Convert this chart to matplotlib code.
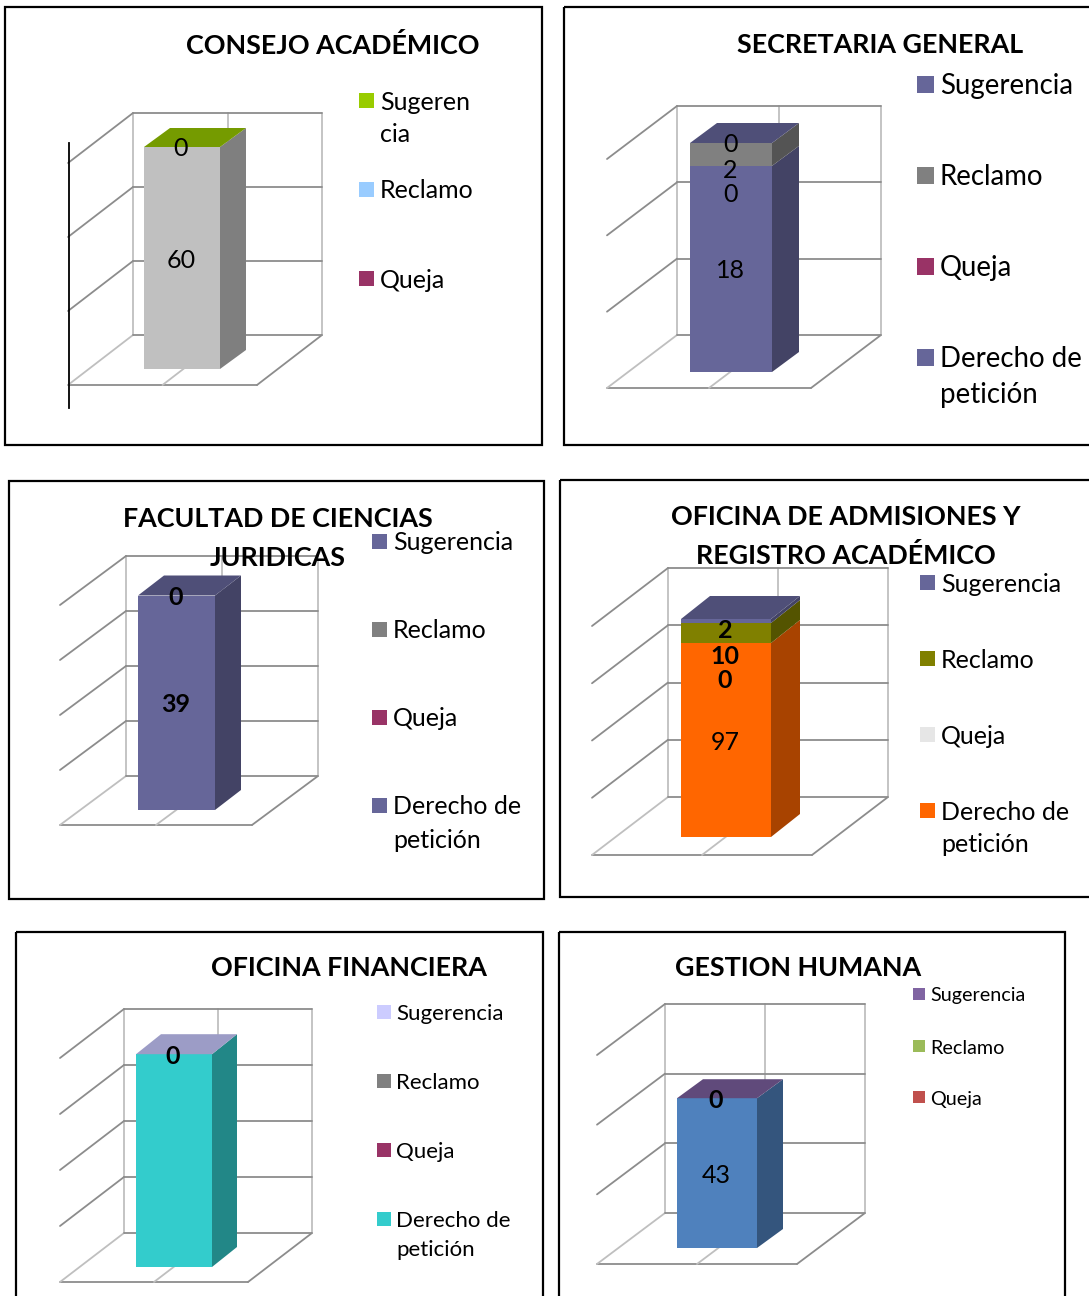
import matplotlib
matplotlib.use("Agg")
import matplotlib.pyplot as plt
from matplotlib.patches import Polygon, Rectangle

W_PX, H_PX = 1089, 1296
plt.rcParams["font.family"] = ["Lato", "DejaVu Sans"]

# Stacked series, bottom to top: Derecho de petición, Queja, Reclamo, Sugerencia
consejo_values = [60, 0]
secretaria_values = [18, 0, 2, 0]
facultad_values = [39, 0]
admisiones_values = [97, 0, 10, 2]
financiera_values = [38, 0]
gestion_values = [43, 0]

consejo_labels = ["60", "0"]
secretaria_labels = ["18", "0", "2", "0"]
facultad_labels = ["39", "0"]
admisiones_labels = ["97", "0", "10", "2"]
financiera_labels = [None, "0"]
gestion_labels = ["43", "0"]

legend_four = ["Sugerencia", "Reclamo", "Queja", "Derecho de\npetición"]
legend_three = ["Sugerencia", "Reclamo", "Queja"]
legend_consejo = ["Sugeren\ncia", "Reclamo", "Queja"]

panels = [
    dict(title="CONSEJO ACADÉMICO", title_xy=(333, 45), title_gap=39,
         frame=(5, 7, 542, 445),
         values=consejo_values, labels=consejo_labels, axis_max=60, intervals=3,
         colors=["#C0C0C0", "#99CC00"], top="#759B00",
         bold=[False, False],
         wall=(68, 385, 189, 222), depth=(65, -50),
         bar=(144, 220, 369), bar_depth=(26, -19),
         legend=legend_consejo, legend_colors=["#99CC00", "#99CCFF", "#993366"],
         legend_x=359, legend_y=[100, 189, 278], swatch=15, text_dx=21,
         legend_size=18, line_gap=33),
    dict(title="SECRETARIA GENERAL", title_xy=(880, 45), title_gap=39,
         frame=(564, 7, 1110, 445),
         values=secretaria_values, labels=secretaria_labels, axis_max=20, intervals=3,
         colors=["#666699", "#993366", "#808080", "#666699"], top="#4F4F78",
         bold=[False] * 4,
         wall=(607, 388, 204, 229), depth=(70, -53),
         bar=(690, 772, 372), bar_depth=(27, -20),
         legend=legend_four, legend_colors=["#666699", "#808080", "#993366", "#666699"],
         legend_x=917, legend_y=[84, 175, 266, 357], swatch=17, text_dx=23,
         legend_size=19.9, line_gap=36),
    dict(title="FACULTAD DE CIENCIAS\nJURIDICAS", title_xy=(278, 519), title_gap=39,
         frame=(9, 481, 544, 899),
         values=facultad_values, labels=facultad_labels, axis_max=40, intervals=4,
         colors=["#666699", "#666699"], top="#4F4F78",
         bold=[True, True],
         wall=(60, 825, 192, 220), depth=(66, -49),
         bar=(138, 215, 810), bar_depth=(26, -20),
         legend=legend_four, legend_colors=["#666699", "#808080", "#993366", "#666699"],
         legend_x=372, legend_y=[541, 629, 717, 805], swatch=15, text_dx=21,
         legend_size=18, line_gap=33),
    dict(title="OFICINA DE ADMISIONES Y\nREGISTRO ACADÉMICO", title_xy=(846, 517), title_gap=39,
         frame=(560, 480, 1110, 897),
         values=admisiones_values, labels=admisiones_labels, axis_max=114.5, intervals=4,
         colors=["#FF6600", "#E6E6E6", "#808000", "#666699"], top="#4F4F78",
         bold=[False, True, True, True],
         wall=(592, 855, 220, 229), depth=(76, -58),
         bar=(681, 771, 837), bar_depth=(29, -23),
         legend=legend_four, legend_colors=["#666699", "#808000", "#E6E6E6", "#FF6600"],
         legend_x=920, legend_y=[582, 658, 734, 810], swatch=15, text_dx=21,
         legend_size=18, line_gap=32),
    dict(title="OFICINA FINANCIERA", title_xy=(349, 968), title_gap=39,
         frame=(16, 932, 543, 1320),
         values=financiera_values, labels=financiera_labels, axis_max=40, intervals=4,
         colors=["#33CCCC", "#CCCCFF"], top="#9C9CC6",
         bold=[False, True],
         wall=(60, 1282, 188, 224), depth=(64, -49),
         bar=(136, 212, 1267), bar_depth=(25, -20),
         legend=legend_four, legend_colors=["#CCCCFF", "#808080", "#993366", "#33CCCC"],
         legend_x=377, legend_y=[1012, 1081, 1150, 1219], swatch=14, text_dx=19,
         legend_size=16, line_gap=29),
    dict(title="GESTION HUMANA", title_xy=(798, 968), title_gap=39,
         frame=(559, 932, 1065, 1320),
         values=gestion_values, labels=gestion_labels, axis_max=60, intervals=3,
         colors=["#4F81BD", "#8064A2"], top="#604A7B",
         bold=[False, True],
         wall=(597, 1264, 200, 209), depth=(68, -51),
         bar=(677, 757, 1248), bar_depth=(26, -19),
         legend=legend_three, legend_colors=["#8064A2", "#9BBB59", "#C0504D"],
         legend_x=913, legend_y=[994, 1046, 1097], swatch=12, text_dx=17,
         legend_size=14.2, line_gap=26),
]

GRID = "#8C8C8C"
WALL = "#BFBFBF"
LW = 1.3
LABEL_GAP_PX = 25


def darker(color, factor=0.66):
    r, g, b = matplotlib.colors.to_rgb(color)
    return (r * factor, g * factor, b * factor)


fig = plt.figure(figsize=(W_PX / 100, H_PX / 100), dpi=100, facecolor="white")

# Page-level layer in pixel units: panel frames, titles and legends
page = fig.add_axes([0, 0, 1, 1], zorder=5)
page.set_xlim(0, W_PX)
page.set_ylim(H_PX, 0)
page.axis("off")
page.patch.set_alpha(0)


def draw_chart(p):
    left, floor, width, height = p["wall"]
    ax = fig.add_axes([left / W_PX, 1 - floor / H_PX, width / W_PX, height / H_PX], zorder=2)
    ax.set_xlim(0, 1)
    ax.set_ylim(0, p["axis_max"])
    ax.axis("off")

    ux = 1 / width
    uy = p["axis_max"] / height
    dx, dy = p["depth"][0] * ux, -p["depth"][1] * uy

    def seg(x0, y0, x1, y1, color, z=1):
        ax.plot([x0, x1], [y0, y1], color=color, lw=LW, clip_on=False,
                solid_capstyle="round", zorder=z)

    # Floor, walls and the gridlines that wrap around them
    seg(0, 0, 1, 0, GRID)
    seg(0, 0, dx, dy, WALL)
    seg(1, 0, 1 + dx, dy, GRID)
    seg(0.5, 0, 0.5 + dx, dy, WALL)
    seg(dx, dy, dx, dy + p["axis_max"], WALL)
    seg(0.5 + dx, dy, 0.5 + dx, dy + p["axis_max"], WALL)
    seg(1 + dx, dy, 1 + dx, dy + p["axis_max"], WALL)
    for i in range(p["intervals"] + 1):
        level = p["axis_max"] * i / p["intervals"]
        seg(dx, dy + level, 1 + dx, dy + level, GRID)
        if i > 0:
            seg(0, level, dx, dy + level, GRID)

    # Stacked block with its side and top faces
    bx0, bx1, bar_floor = p["bar"]
    x0 = (bx0 - left) * ux
    x1 = (bx1 - left) * ux
    lift = (floor - bar_floor) * uy
    bdx, bdy = p["bar_depth"][0] * ux, -p["bar_depth"][1] * uy
    base = lift
    centers = []
    for value, color in zip(p["values"], p["colors"]):
        tip = base + value
        if value > 0:
            ax.add_patch(Polygon([(x1, base), (x1 + bdx, base + bdy), (x1 + bdx, tip + bdy), (x1, tip)],
                                 closed=True, fc=darker(color), ec="none", zorder=3, clip_on=False))
            ax.add_patch(Rectangle((x0, base), x1 - x0, value, fc=color, ec="none", zorder=4, clip_on=False))
        centers.append(base + value / 2)
        base = tip
    ax.add_patch(Polygon([(x0, base), (x1, base), (x1 + bdx, base + bdy), (x0 + bdx, base + bdy)],
                         closed=True, fc=p["top"], ec="none", zorder=4, clip_on=False))

    # Value labels, walked from the top of the stack so thin bands stay readable
    gap = LABEL_GAP_PX * uy
    limit = None
    for idx in range(len(centers) - 1, -1, -1):
        text = p["labels"][idx]
        if text is None:
            continue
        y = centers[idx] - 2 * uy
        if p["values"][idx] > 0 and idx == len(centers) - 1:
            y = min(y, base - 12 * uy)
        if limit is not None:
            y = min(y, limit - gap)
        limit = y
        ax.text((x0 + x1) / 2 - 1 * ux, y, text, ha="center", va="center", fontsize=18,
                fontweight="bold" if p["bold"][idx] else "normal", color="black",
                zorder=6, clip_on=False)


def draw_page(p):
    x0, y0, x1, y1 = p["frame"]
    page.add_patch(Rectangle((x0, y0), x1 - x0, y1 - y0, fc="none", ec="black", lw=1.6, zorder=1))
    tx, ty = p["title_xy"]
    for i, line in enumerate(p["title"].split("\n")):
        page.text(tx, ty + i * p["title_gap"], line, ha="center", va="center",
                  fontsize=19.4, fontweight="bold", color="black", zorder=6)
    size = p["swatch"]
    for name, color, y in zip(p["legend"], p["legend_colors"], p["legend_y"]):
        page.add_patch(Rectangle((p["legend_x"], y - size / 2), size, size, fc=color, ec="none", zorder=3))
        for i, line in enumerate(name.split("\n")):
            page.text(p["legend_x"] + p["text_dx"], y + 2 + i * p["line_gap"], line, ha="left", va="center",
                      fontsize=p["legend_size"], color="black", zorder=6)


for panel in panels:
    draw_page(panel)
    draw_chart(panel)

# Stray vertical rule beside the first chart
page.plot([69, 69], [143, 408], color="black", lw=1.3, zorder=4)

fig.savefig("out.png", dpi=100)
